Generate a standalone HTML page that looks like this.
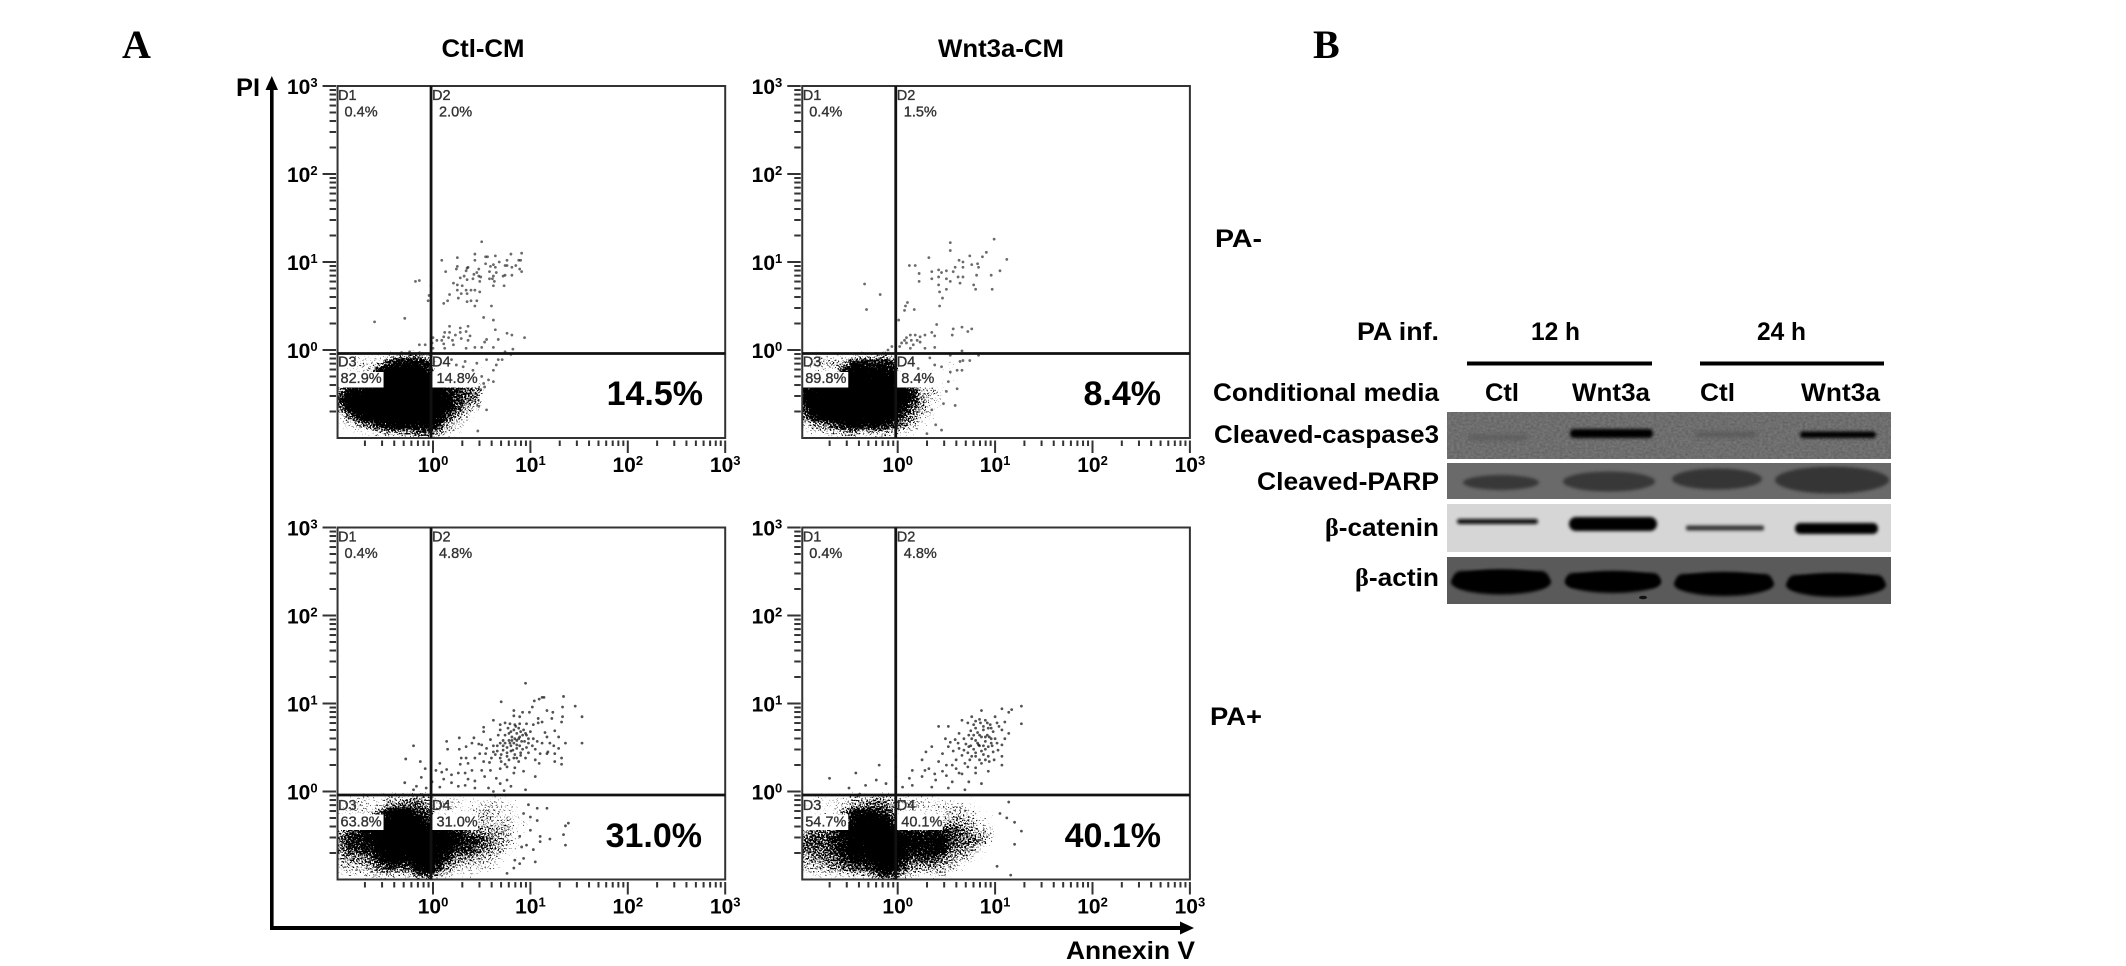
<!DOCTYPE html>
<html lang="en">
<head>
<meta charset="utf-8">
<title>Annexin V / PI flow cytometry and western blot</title>
<style>
html,body{margin:0;padding:0;background:#fff;width:2126px;height:966px;overflow:hidden}
svg{display:block}
text{font-family:"Liberation Sans",sans-serif;fill:#000}
.b{font-weight:700}
.serif{font-family:"Liberation Serif",serif;font-weight:700}
.q{fill:#333;font-size:14.5px;stroke:#333;stroke-width:.35px}
</style>
</head>
<body>
<svg id="fig" xmlns="http://www.w3.org/2000/svg" width="2126" height="966" viewBox="0 0 2126 966">
<defs>
  <filter id="stipple" x="-5%" y="-5%" width="110%" height="110%" color-interpolation-filters="sRGB">
    <feGaussianBlur in="SourceAlpha" stdDeviation="2.2" result="soft"/>
    <feTurbulence type="fractalNoise" baseFrequency="0.6" numOctaves="2" seed="7" result="noise"/>
    <feColorMatrix in="noise" type="matrix" values="0 0 0 0 0  0 0 0 0 0  0 0 0 0 0  1 0 0 0 0" result="noiseA"/>
    <feComposite in="soft" in2="noiseA" operator="arithmetic" k1="0" k2="8" k3="-8" k4="0"/>
  </filter>
  <filter id="grain" x="0" y="0" width="100%" height="100%" color-interpolation-filters="sRGB">
    <feTurbulence type="fractalNoise" baseFrequency="0.35 0.5" numOctaves="2" seed="3"/>
    <feColorMatrix type="matrix" values="0 0 0 0 0  0 0 0 0 0  0 0 0 0 0  1.1 0 0 0 -0.3"/>
  </filter>
  <filter id="b1" x="-30%" y="-150%" width="160%" height="400%"><feGaussianBlur stdDeviation="1.7"/></filter>
  <filter id="b2" x="-30%" y="-200%" width="160%" height="500%"><feGaussianBlur stdDeviation="2.4"/></filter>
  <clipPath id="blot-clip"><rect x="1447" y="412" width="444" height="192"/></clipPath>
</defs>

<text class="serif" x="122" y="58" font-size="40">A</text>
<text class="serif" x="1313" y="58" font-size="40">B</text>
<text class="b" x="441.5" y="57" font-size="25" textLength="83" lengthAdjust="spacingAndGlyphs">Ctl-CM</text>
<text class="b" x="938" y="57" font-size="25" textLength="126" lengthAdjust="spacingAndGlyphs">Wnt3a-CM</text>
<text class="b" x="1215" y="247" font-size="25" textLength="47" lengthAdjust="spacingAndGlyphs">PA-</text>
<text class="b" x="1210" y="725" font-size="25" textLength="52" lengthAdjust="spacingAndGlyphs">PA+</text>

<g>
  <rect x="270" y="84" width="3.6" height="845" fill="#000"/>
  <polygon points="271.8,76 265.5,90 278,90" fill="#000"/>
  <rect x="270" y="926" width="914" height="4" fill="#000"/>
  <polygon points="1194,928 1180,921.5 1180,934.5" fill="#000"/>
  <text class="b" x="236" y="96" font-size="25" textLength="24" lengthAdjust="spacingAndGlyphs">PI</text>
  <text class="b" x="1066" y="959" font-size="25" textLength="129" lengthAdjust="spacingAndGlyphs">Annexin V</text>
</g>

<g id="plots"></g>

<g>
  <text class="b" x="1357" y="340" font-size="25" textLength="82" lengthAdjust="spacingAndGlyphs">PA inf.</text>
  <text class="b" x="1531" y="340" font-size="25" textLength="49" lengthAdjust="spacingAndGlyphs">12 h</text>
  <text class="b" x="1757" y="340" font-size="25" textLength="49" lengthAdjust="spacingAndGlyphs">24 h</text>
  <rect x="1471" y="361.5" width="185" height="4" fill="#000" transform="translate(-4 0)"/>
  <rect x="1704" y="361.5" width="184" height="4" fill="#000" transform="translate(-4 0)"/>
  <text class="b" x="1213" y="401" font-size="25" textLength="226" lengthAdjust="spacingAndGlyphs">Conditional media</text>
  <text class="b" x="1485" y="401" font-size="25" textLength="34" lengthAdjust="spacingAndGlyphs">Ctl</text>
  <text class="b" x="1572" y="401" font-size="25" textLength="78" lengthAdjust="spacingAndGlyphs">Wnt3a</text>
  <text class="b" x="1700" y="401" font-size="25" textLength="35" lengthAdjust="spacingAndGlyphs">Ctl</text>
  <text class="b" x="1801" y="401" font-size="25" textLength="79" lengthAdjust="spacingAndGlyphs">Wnt3a</text>
  <text class="b" x="1214" y="443" font-size="25" textLength="225" lengthAdjust="spacingAndGlyphs">Cleaved-caspase3</text>
  <text class="b" x="1257" y="490" font-size="25" textLength="182" lengthAdjust="spacingAndGlyphs">Cleaved-PARP</text>
  <text class="b" x="1325" y="536" font-size="25" textLength="114" lengthAdjust="spacingAndGlyphs"><tspan font-family="Liberation Serif">β</tspan>-catenin</text>
  <text class="b" x="1355" y="586" font-size="25" textLength="84" lengthAdjust="spacingAndGlyphs"><tspan font-family="Liberation Serif">β</tspan>-actin</text>
</g>

<g clip-path="url(#blot-clip)">
  <g>
    <rect x="1447" y="412" width="444" height="47" fill="#777"/>
    <rect x="1447" y="412" width="444" height="47" fill="#000" filter="url(#grain)" opacity=".3"/>
    <rect x="1468" y="435" width="60" height="5" rx="2.5" fill="#5c5c5c" filter="url(#b2)"/>
    <rect x="1695" y="432" width="62" height="5" rx="2.5" fill="#595959" filter="url(#b2)"/>
    <rect x="1570" y="429" width="83" height="9" rx="4" fill="#000" filter="url(#b1)"/>
    <rect x="1800" y="431.5" width="76" height="6.5" rx="3" fill="#000" filter="url(#b1)"/>
  </g>
  <g>
    <rect x="1447" y="463" width="444" height="36" fill="#6a6a6a"/>
    <ellipse cx="1501" cy="482.5" rx="38" ry="7.5" fill="#383838" filter="url(#b1)"/>
    <ellipse cx="1609" cy="481.5" rx="46" ry="10" fill="#383838" filter="url(#b1)"/>
    <ellipse cx="1717" cy="479" rx="45" ry="10.5" fill="#353535" filter="url(#b1)"/>
    <ellipse cx="1832" cy="480" rx="57" ry="13.5" fill="#353535" filter="url(#b1)"/>
  </g>
  <g>
    <rect x="1447" y="504" width="444" height="48" fill="#d6d6d6"/>
    <rect x="1457" y="519" width="81" height="5" rx="2.5" fill="#111" filter="url(#b1)"/>
    <rect x="1569" y="517" width="88" height="14" rx="7" fill="#000" filter="url(#b1)"/>
    <rect x="1686" y="525.5" width="78" height="5" rx="2" fill="#333" filter="url(#b1)"/>
    <rect x="1795" y="523" width="83" height="11" rx="5" fill="#000" filter="url(#b1)"/>
  </g>
  <g>
    <rect x="1447" y="557" width="444" height="47" fill="#5a5a5a"/>
    <ellipse cx="1501" cy="582" rx="50" ry="12.5" fill="#000" filter="url(#b1)"/>
    <rect x="1453" y="571" width="96" height="16" rx="8" fill="#000" filter="url(#b1)"/>
    <ellipse cx="1613" cy="582" rx="48" ry="11" fill="#000" filter="url(#b1)"/>
    <rect x="1566" y="573" width="94" height="14" rx="7" fill="#000" filter="url(#b1)"/>
    <ellipse cx="1724" cy="584" rx="50" ry="12" fill="#000" filter="url(#b1)"/>
    <rect x="1676" y="574" width="96" height="14" rx="7" fill="#000" filter="url(#b1)"/>
    <ellipse cx="1836" cy="585" rx="50" ry="12" fill="#000" filter="url(#b1)"/>
    <rect x="1788" y="575" width="96" height="14" rx="7" fill="#000" filter="url(#b1)"/>
    <ellipse cx="1643" cy="597.5" rx="4" ry="1.8" fill="#111"/>
  </g>
</g>

<script>
/* Tick values and labels (log10 exponents of fluorescence intensity) */
const majorTicks = [0, 1, 2, 3];
const minorMultipliers = [2, 3, 4, 5, 6, 7, 8, 9];
const minorDecades = [-1, 0, 1, 2];

/* Panel names and printed values */
const panelNames = ['ctl-pa-minus', 'wnt3a-pa-minus', 'ctl-pa-plus', 'wnt3a-pa-plus'];
const d1Values = ['0.4%', '0.4%', '0.4%', '0.4%'];
const d2Values = ['2.0%', '1.5%', '4.8%', '4.8%'];
const d3Values = ['82.9%', '89.8%', '63.8%', '54.7%'];
const d4Values = ['14.8%', '8.4%', '31.0%', '40.1%'];
const headlineValues = ['14.5%', '8.4%', '31.0%', '40.1%'];

/* Gate positions as log10 exponents */
const gateX = -0.02;
const gateY = -0.04;

/* Individually resolved events: [log10 Annexin V, log10 PI] */
const ctlMinusPoints = [[.5,1.23],[.43,1.09],[.64,1.07],[.54,1.06],[.56,1.06],[.8,1.09],[.91,1.1],[.09,1.02],[.25,1.05],[.43,1.02],[.54,.98],[.68,1],[.76,1.02],[.88,1.02],[.9,1.02],[.62,.97],[.64,.94],[.59,.95],[.74,.96],[.76,.96],[.81,.94],[.85,.96],[.89,.92],[.91,.89],[.24,.92],[.25,.95],[.35,.93],[.36,.94],[.13,.89],[.34,.9],[.47,.92],[.45,.88],[.42,.86],[.58,.89],[.65,.88],[.74,.85],[.72,.84],[.81,.85],[.62,.84],[.47,.84],[.49,.83],[.41,.81],[.35,.8],[.32,.84],[.28,.82],[.58,.81],[.61,.81],[.48,.78],[.21,.76],[.63,.78],[.25,.74],[.3,.73],[.62,.73],[.73,.73],[-.14,.79],[-.18,.78],[-.02,.73],[-.04,.62],[-.05,.56],[.25,.68],[.34,.68],[.39,.68],[.43,.68],[.48,.66],[.29,.64],[.35,.64],[.17,.63],[.26,.59],[.15,.56],[.11,.53],[.35,.55],[.39,.56],[.45,.56],[.43,.5],[.6,.5],[.52,.37],[.62,.34],[-.6,.32],[-.29,.36],[.64,.23],[.76,.19],[.81,.17],[.67,.12],[.94,.14],[.55,.12],[.53,.09],[.17,.27],[.28,.25],[.36,.27],[.12,.2],[.17,.2],[.23,.17],[.28,.2],[.34,.21],[.11,.15],[.16,.14],[.38,.16],[0,.14],[.04,.11],[.09,.11],[.2,.11],[.29,.13],[.36,.11],[-.01,.08],[.11,.07],[.21,.06],[-.08,.06],[-.14,.06],[0,.02],[.12,.02],[.34,.02],[.43,.03],[.5,.03],[.62,.03],[.82,.01],[-.24,-.02],[-.32,-.03],[.74,-.02],[.8,-.05],[.19,-.11],[.33,-.13],[.45,-.15],[.55,-.11],[.67,-.11],[.71,-.11],[.65,-.17],[.62,-.23],[.5,-.3],[.57,-.34],[.62,-.36],[.52,-.38],[.53,-.42],[.49,-.45],[.55,-.68],[.47,-.64],[.46,-.92],[.31,-.19],[.41,-.23],[.24,-.17]];

const wntMinusPoints = [[.99,1.26],[.54,1.22],[.54,1.13],[.32,1.05],[.74,1.07],[.87,1.06],[.91,1.11],[1.12,1.03],[.12,.96],[.18,.96],[.63,1.02],[.67,1],[.59,.94],[.67,.94],[.76,.97],[.82,.98],[.83,.94],[.22,.87],[.42,.91],[.45,.88],[.5,.9],[.57,.89],[.35,.89],[1.05,.9],[.96,.85],[.81,.85],[.35,.81],[.42,.83],[.5,.81],[.62,.83],[.67,.83],[.22,.78],[.42,.74],[.54,.78],[.64,.76],[.78,.74],[.8,.69],[.97,.69],[.5,.69],[.43,.66],[.46,.59],[.43,.5],[-.34,.75],[-.18,.63],[-.32,.46],[.1,.54],[.08,.5],[.07,.45],[.17,.46],[.01,.34],[.4,.29],[.57,.24],[.66,.26],[.76,.24],[.72,.21],[.56,.17],[.35,.2],[.38,.16],[.28,.17],[.23,.15],[.13,.17],[.18,.17],[.09,.14],[.07,.11],[.14,.11],[.2,.11],[.04,.08],[.09,.08],[.16,.06],[.23,.09],[.28,.02],[.38,.03],[.02,.04],[-.06,.04],[-.1,0],[.13,.02],[.66,-.01],[.83,-.06],[.54,-.06],[.33,-.09],[.38,-.17],[.45,-.19],[.21,-.21],[.64,-.13],[.74,-.12],[.67,-.12],[.61,-.23],[.66,-.23],[.54,-.25],[.45,-.38],[.52,-.36],[.61,-.44],[.5,-.47],[.59,-.63],[.45,-.91],[.39,-.85],[.35,-.68],[.47,-.61],[.3,-.95]];

const ctlPlusPoints = [[.95,1.23],[.7,1.02],[1.34,1.08],[1.46,.97],[1.53,.85],[1.53,.55],[1.14,1.07],[1.09,1.05],[1.04,1.03],[1.02,.96],[1.33,.96],[1.17,.92],[1.23,.9],[1.33,.85],[.92,.9],[.99,.9],[.83,.92],[.83,.86],[.89,.85],[1.22,.83],[1.32,.79],[1.12,.79],[1.08,.83],[.62,.81],[.74,.78],[.79,.77],[.84,.76],[.89,.77],[.96,.77],[1.03,.76],[1.08,.78],[.52,.73],[.52,.68],[.69,.76],[.69,.7],[.77,.72],[.83,.7],[.88,.72],[.93,.7],[1,.68],[1.15,.67],[1.25,.69],[1.29,.62],[.42,.61],[.27,.61],[.14,.57],[1.36,.55],[1.24,.52],[1.2,.55],[1.03,.6],[1.07,.57],[.96,.64],[.89,.62],[.81,.62],[.74,.64],[.67,.64],[.59,.59],[.47,.54],[.5,.53],[.4,.55],[.34,.51],[.27,.48],[.15,.48],[.55,.49],[.62,.52],[.69,.55],[.76,.5],[.83,.55],[.89,.52],[.96,.5],[1.05,.48],[1.18,.45],[1.25,.43],[1.29,.49],[1.17,.43],[1.1,.43],[1.32,.38],[1.25,.34],[1.32,.31],[1.09,.32],[1.05,.36],[.95,.38],[.86,.38],[.76,.4],[.69,.38],[.6,.38],[.54,.43],[.48,.43],[.52,.34],[.43,.38],[.34,.38],[.29,.38],[.36,.32],[.28,.31],[.07,.32],[.4,.24],[.5,.24],[.59,.24],[.69,.26],[.76,.28],[.84,.27],[.93,.23],[.83,.21],[.14,.25],[.09,.22],[.03,.24],[.19,.19],[.33,.21],[.26,.21],[.11,.14],[.19,.1],[.36,.14],[.43,.12],[.53,.17],[.65,.15],[.69,.09],[.76,.13],[1.05,.17],[.57,.04],[.43,.04],[.33,.07],[.26,.06],[.07,.05],[.8,.06],[.95,.02],[.73,.01],[.62,0],[-.2,.52],[-.28,.37],[-.13,.34],[-.08,.26],[-.12,.16],[-.29,.1],[-.17,.06],[-.2,.02],[-.07,.04],[-.01,.11],[.81,.58],[.86,.58],[.91,.57],[.79,.55],[.86,.49],[.83,.38],[.78,.66],[.86,.66],[.92,.64],[.98,.6],[.72,.58],[.66,.52],[.72,.47],[.8,.46],[.9,.44],[.98,.44],[.7,.42],[.78,.36],[.62,.45],[.58,.33],[1.12,1.07],[1.17,.62],[1.12,.55],[.85,.74],[.8,.68],[.9,.68],[.95,.66],[.84,.6],[.88,.6],[.94,.57],[.78,.58],[.74,.55],[.8,.52],[.86,.53],[.92,.48],[.82,.47],[.76,.44],[.84,.42],[.9,.41],[.72,.52],[.98,.55],[1.02,.52],[.66,.46],[.7,.34],[.74,.31],[.64,.42],[.88,.34],[1.17,-.19],[1.07,-.19],[.98,-.15],[.93,-.25],[1.07,-.33],[1,-.29],[1.39,-.36],[1.36,-.39],[1.34,-.49],[1.36,-.61],[1.2,-.54],[1.1,-.51],[1.1,-.57],[1,-.44],[1.03,-.66],[1.05,-.8],[.93,-.76],[.96,-.61],[.89,-.51],[.91,-.63],[.83,-.87],[.84,-.78],[.89,-.82],[.76,-.93]];

const wntPlusPoints = [[1.27,.97],[1.07,.94],[1.17,.93],[.86,.92],[1.27,.77],[1.14,.9],[.42,.74],[.66,.81],[.76,.85],[.9,.81],[1,.85],[1.1,.79],[.52,.74],[.8,.72],[.93,.72],[1.07,.7],[1.14,.66],[.63,.66],[.73,.64],[.86,.62],[1,.6],[.49,.6],[.59,.59],[.73,.51],[.83,.53],[.93,.51],[1.07,.53],[.35,.51],[.52,.51],[.63,.49],[.29,.45],[.46,.43],[.66,.41],[.8,.4],[.93,.4],[1.07,.4],[.25,.36],[.42,.34],[.56,.3],[.69,.32],[.86,.32],[1.07,.3],[.15,.24],[.32,.26],[.46,.23],[.63,.21],[.8,.21],[.93,.23],[.12,.15],[.25,.17],[.39,.13],[.56,.11],[.73,.11],[.86,.09],[.15,.07],[.35,.05],[.52,.04],[.69,.02],[.05,.05],[-.02,.4],[-.02,.28],[-.02,.17],[-.19,.3],[-.43,.21],[-.7,.15],[-.22,.13],[-.33,.07],[-.5,.04],[-.12,.09],[-.39,-.03],[1.14,-.12],[.72,.78],[.78,.76],[.85,.78],[.95,.76],[.75,.69],[.82,.67],[.88,.7],[.98,.68],[1.04,.74],[.68,.6],[.76,.6],[.8,.58],[.9,.57],[.96,.6],[1.02,.55],[.7,.54],[.78,.48],[.86,.46],[.9,.48],[.98,.45],[.62,.55],[.57,.46],[.72,.44],[.84,.52],[.75,.52],[.68,.47],[.54,.56],[.97,.52],[1.03,.47],[1.1,.6],[.92,.64],[.84,.64],[.78,.64],[.88,.42],[.74,.36],[.6,.36],[.5,.3],[.38,.2],[.28,.24],[.94,.34],[.99,.36],[.84,.82],[.92,.78],[1.02,.78],[.88,.74],[.8,.8],[.96,.72],[.9,.62],[.94,.62],[.82,.55],[.88,.52],[.96,.55],[.8,.44],[.9,.36],[.84,.36],[.76,.4],[.72,.28],[.8,.27],[.6,.26],[.66,.2],[.5,.18],[1.2,-.35],[1.27,-.45],[1.05,-.25],[1.12,-.3],[1.02,-.85],[1.16,-.95],[1.2,-.6]];

/* Dense-event density, one row per 0.1 log PI (top row = 0 to -0.1),
   one column per 0.1 log Annexin V starting at -1. */
const ctlMinusDensity = [
[0,.2,.3,.3,.25,.35,.45,.5,.5,.4,.1,.1],
[.25,.3,.4,.4,.45,.7,.8,.8,.8,.7,.2,.2,.25,.25,.2,.1],
[.2,.3,.3,.4,.8,.95,.95,.95,.9,.8,.25,.2,.2,.2,.2,.15],
[.3,.4,.4,.5,.95,1,1,1,1,.95,.4,.25,.25,.3,.3,.2],
[.55,.8,.8,.9,1,1,1,1,1,1,.95,.7,.65,.6,.55,.2],
[.7,.95,1,1,1,1,1,1,1,1,1,.8,.7,.6,.55,.1],
[.6,.85,1,1,1,1,1,1,1,1,1,.85,.65,.5,.4,.05],
[.4,.6,.8,.95,1,1,1,1,1,1,.9,.65,.5,.4,.15,.05],
[.3,.35,.5,.6,.75,.8,.85,.8,.8,.8,.7,.5,.4,.25,.05],
[.2,.25,.3,.3,.4,.5,.5,.5,.6,.6,.5,.4,.25,.1,.1]];

const wntMinusDensity = [
[0,.3,.35,.3,.3,.35,.35,.4,.5,.35,.05],
[.25,.35,.45,.45,.5,.75,.75,.7,.75,.65,.05,.15,.1,.15,.3,.35],
[.2,.3,.3,.3,.75,.95,.95,.9,.85,.8,.2,.1,.2,.25,.25,.25],
[.3,.3,.4,.4,.85,1,1,.95,.95,.9,.2,.25,.3,.25,.25,.2],
[.8,.9,.95,1,1,1,1,1,1,1,.9,.7,.45,.45,.3,.2],
[.85,1,1,1,1,1,1,1,1,1,.9,.7,.5,.4,.3,.1],
[.75,1,1,1,1,1,1,1,1,1,.8,.6,.5,.35,.2],
[.6,.8,.9,1,1,1,1,1,1,.95,.65,.55,.4,.3,.1],
[.4,.5,.55,.65,.75,.8,.75,.8,.75,.65,.55,.45,.3,.15,.15],
[.25,.35,.4,.4,.45,.5,.4,.45,.45,.4,.35,.3,.2,.1,.05]];

const ctlPlusDensity = [
[.15,.3,.35,.35,.3,.4,.4,.45,.5,.4,.3,.3,.3,.2,.2,.25,.3,.25,.2,.1],
[.3,.3,.4,.35,.35,.55,.55,.6,.6,.5,.4,.4,.35,.3,.35,.4,.4,.35,.3,.1,.1],
[.3,.35,.35,.35,.6,.8,.9,.85,.7,.65,.3,.3,.3,.3,.4,.45,.4,.35,.3,.2,.15],
[.3,.35,.4,.35,.7,.9,1,1,.85,.75,.4,.35,.35,.4,.45,.45,.4,.45,.3,.3,.15],
[.5,.65,.7,.8,.95,1,1,1,1,.95,.9,.8,.75,.6,.55,.5,.5,.5,.3,.3,.15],
[.6,.7,.7,.8,.9,1,1,1,1,1,1,.9,.8,.7,.7,.6,.5,.45,.3,.15,0],
[.55,.65,.7,.75,.85,1,1,1,1,1,.9,.8,.7,.7,.6,.55,.5,.4,.3,.2,.1],
[.5,.55,.55,.6,.75,.85,.9,.85,1,1,.85,.7,.55,.55,.5,.45,.4,.3,.2,.1,.05],
[.4,.45,.45,.5,.6,.7,.65,.65,.85,.9,.7,.55,.45,.4,.4,.35,.3,.15,.1,0],
[.3,.35,.35,.4,.45,.45,.4,.45,.6,.65,.5,.4,.3,.3,.3,.2,.1,0]];

const wntPlusDensity = [
[.1,.3,.3,.3,.35,.4,.4,.45,.45,.35,.35,.3,.3,.3,.2,.15,.2,.2,.1,0,.1],
[.25,.3,.3,.35,.4,.5,.55,.6,.6,.5,.4,.45,.4,.35,.4,.4,.4,.35,.2,.2,.1],
[.2,.3,.3,.35,.55,.75,.8,.8,.7,.6,.25,.25,.3,.3,.35,.45,.45,.4,.25,.25,.15],
[.3,.3,.35,.4,.6,.8,.95,1,1,.7,.25,.3,.35,.4,.45,.5,.5,.45,.35,.25,.2],
[.5,.6,.6,.65,.85,.95,.95,1,1,.9,.75,.7,.7,.75,.7,.65,.6,.5,.45,.4,.1],
[.6,.65,.6,.7,.8,.9,.95,1,1,1,.9,.85,.8,.8,.85,.65,.6,.6,.55,.4,.05],
[.6,.6,.6,.7,.8,.85,.9,.95,1,1,.85,.75,.8,.8,.8,.6,.55,.5,.35,.2,.1],
[.5,.55,.6,.6,.7,.8,.8,.9,1,1,.8,.65,.7,.65,.6,.5,.45,.4,.2,.1,0],
[.45,.45,.5,.55,.6,.65,.65,.75,.9,.85,.65,.55,.5,.55,.5,.45,.3,.2,.1,0],
[.3,.35,.35,.4,.4,.45,.45,.55,.7,.65,.5,.4,.35,.35,.4,.25,.15,0]];

const panelPoints = [ctlMinusPoints, wntMinusPoints, ctlPlusPoints, wntPlusPoints];
const panelDensity = [ctlMinusDensity, wntMinusDensity, ctlPlusDensity, wntPlusDensity];

/* Layout (not data) */
const layout = [
  {x0: 433,   y0: 350,   lab: 0,  bigX: 703,  bigY: 405},
  {x0: 897.7, y0: 350,   lab: 0,  bigX: 1161, bigY: 405},
  {x0: 433,   y0: 791.5, lab: 2,  bigX: 702,  bigY: 847},
  {x0: 897.7, y0: 791.5, lab: 2,  bigX: 1161, bigY: 847}
];
const DEC_X = 97.4, DEC_Y = 88, MIN_X = -0.98, MAX_X = 3, MIN_Y = -1, MAX_Y = 3;
const BIN = 0.1;

const NS = 'http://www.w3.org/2000/svg';
function mk(tag, attrs, parent) {
  const el = document.createElementNS(NS, tag);
  for (const k in attrs) el.setAttribute(k, attrs[k]);
  parent.appendChild(el);
  return el;
}

const plots = document.getElementById('plots');

panelNames.forEach(function (name, p) {
  const L = layout[p];
  const xS = function (v) { return L.x0 + v * DEC_X; };
  const yS = function (v) { return L.y0 - v * DEC_Y; };
  const left = xS(MIN_X), right = xS(MAX_X), top = yS(MAX_Y), bottom = yS(MIN_Y);

  const g = mk('g', {}, plots);
  
  

  const clipId = 'clip-' + p;
  const clip = mk('clipPath', {id: clipId}, g);
  mk('rect', {x: left, y: top, width: right - left, height: bottom - top}, clip);

  const clipped = mk('g', {'clip-path': 'url(#' + clipId + ')'}, g);
  const dens = mk('g', {filter: 'url(#stipple)'}, clipped);
  
  
  panelDensity[p].forEach(function (row, j) {
    row.forEach(function (val, i) {
      if (!val) return;
      const lx = -1 + i * BIN, ly = -j * BIN;
      const c = mk('rect', {x: xS(lx), y: yS(ly), width: BIN * DEC_X + .3, height: BIN * DEC_Y + .3, fill: '#000', 'fill-opacity': val}, dens);
      
      
    });
  });

  panelPoints[p].forEach(function (pt) {
    const c = mk('circle', {cx: xS(pt[0]), cy: yS(pt[1]), r: 1.4, fill: '#000', 'fill-opacity': p < 2 ? .58 : .68}, clipped);
    
    
  });

  /* white label backgrounds */
  const gx = xS(gateX), gy = yS(gateY);
  const boxTop = L.y0 + 22 + L.lab / 2, boxH = 15.5;
  const d3box = mk('rect', {x: left, y: boxTop, width: 46, height: boxH, fill: '#fff'}, g);
  
  
  const d4box = mk('rect', {x: gx, y: boxTop, width: 47, height: boxH, fill: '#fff'}, g);
  
  

  /* frame and gates */
  const frame = mk('rect', {x: left, y: top, width: right - left, height: bottom - top, fill: 'none', stroke: '#333', 'stroke-width': 2}, g);
  
  
  const vg = mk('line', {x1: gx, x2: gx, y1: top, y2: bottom, stroke: '#111', 'stroke-width': 2.8}, g);
  
  
  const hg = mk('line', {x1: left, x2: right, y1: gy, y2: gy, stroke: '#111', 'stroke-width': 2.8}, g);
  
  

  /* quadrant labels */
  const qTexts = [
    ['D1', left + .5, top + 14, 'quadrant-d1-name'],
    [d1Values[p], left + 7, top + 30.5, 'quadrant-d1-value'],
    ['D2', gx + 1, top + 14, 'quadrant-d2-name'],
    [d2Values[p], gx + 8, top + 30.5, 'quadrant-d2-value'],
    ['D3', left + .5, L.y0 + 16.7 + L.lab, 'quadrant-d3-name'],
    [d3Values[p], left + 3, L.y0 + 33 + L.lab, 'quadrant-d3-value'],
    ['D4', gx + 1, L.y0 + 16.7 + L.lab, 'quadrant-d4-name'],
    [d4Values[p], gx + 5.5, L.y0 + 33 + L.lab, 'quadrant-d4-value']
  ];
  qTexts.forEach(function (q) {
    const t = mk('text', {x: q[1], y: q[2], class: 'q'}, g);
    t.textContent = q[0];
    
    
  });

  const big = mk('text', {x: L.bigX, y: L.bigY, 'text-anchor': 'end', class: 'b', 'font-size': 34}, g);
  big.textContent = headlineValues[p];
  
  

  /* axis ticks */
  const tickColor = '#333';
  const yMajorX1 = left - 15, axisRight = left - 1.5;
  const xTickTop = bottom + 2.5;
  majorTicks.forEach(function (v) {
    const ty = mk('line', {x1: yMajorX1, x2: axisRight, y1: yS(v), y2: yS(v), stroke: tickColor, 'stroke-width': 2}, g);
    
    
    const tx = mk('line', {x1: xS(v), x2: xS(v), y1: xTickTop, y2: bottom + 15, stroke: tickColor, 'stroke-width': 2}, g);
    
    

    const ly = mk('text', {x: left - 20, y: yS(v) + 8, 'text-anchor': 'end', class: 'b', 'font-size': 21}, g);
    
    
    ly.appendChild(document.createTextNode('10'));
    const sy = mk('tspan', {'font-size': 13, dy: -7}, ly);
    sy.textContent = v;

    const lx = mk('text', {x: xS(v), y: bottom + 34, 'text-anchor': 'middle', class: 'b', 'font-size': 21}, g);
    
    
    lx.appendChild(document.createTextNode('10'));
    const sx = mk('tspan', {'font-size': 13, dy: -7}, lx);
    sx.textContent = v;
  });
  minorDecades.forEach(function (d) {
    minorMultipliers.forEach(function (m) {
      const v = d + Math.log10(m);
      const ty = mk('line', {x1: left - 8, x2: axisRight, y1: yS(v), y2: yS(v), stroke: tickColor, 'stroke-width': 2}, g);
      
      
      const tx = mk('line', {x1: xS(v), x2: xS(v), y1: xTickTop, y2: bottom + 8, stroke: tickColor, 'stroke-width': 2}, g);
      
      
    });
  });
});
</script>
</svg>
</body>
</html>
